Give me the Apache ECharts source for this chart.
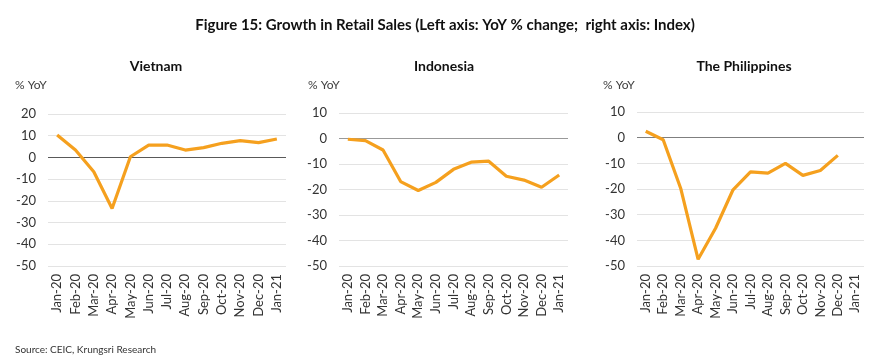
<!DOCTYPE html>
<html>
<head>
<meta charset="utf-8">
<script src="https://cdn.jsdelivr.net/npm/echarts@6/dist/echarts.min.js"></script>
<style>
html,body{margin:0;padding:0;background:#fff;}
#chart{width:870px;height:363px;}
</style>
</head>
<body>
<div id="chart"></div>
<script>
const months = ['Jan-20','Feb-20','Mar-20','Apr-20','May-20','Jun-20','Jul-20','Aug-20','Sep-20','Oct-20','Nov-20','Dec-20','Jan-21'];
const vietnam = [10.3, 3.4, -6.6, -23.5, 0.3, 5.7, 5.7, 3.4, 4.5, 6.5, 7.7, 6.8, 8.5];
const indonesia = [-0.3, -0.8, -4.5, -16.9, -20.4, -17.2, -12.1, -9.3, -8.9, -14.8, -16.3, -19.1, -14.3];
const philippines = [2.5, -0.8, -19.7, -47.4, -35.3, -20.3, -13.3, -13.8, -10.0, -14.7, -12.8, -6.9, null];
const panelTitles = ['Vietnam', 'Indonesia', 'The Philippines'];
const yMax = [20, 10, 10];
const yMin = -50;
const mainTitle = 'Figure 15: Growth in Retail Sales (Left axis: YoY % change;  right axis: Index)';
const sourceText = 'Source: CEIC, Krungsri Research';
const unitLabel = '% YoY';

const FONT = 'Lato';
const lineColor = '#F5A01E';
const grids = [
  {left: 48, width: 238, top: 114, bottom: 97},
  {left: 339, width: 229, top: 113, bottom: 97},
  {left: 637, width: 227, top: 112, bottom: 97}
];
const titlePos = [151, 439, 739];
const unitPos = [10, 303, 598];
const seriesData = [vietnam, indonesia, philippines];
const zeroColors = ['#595959', '#999999', '#7f7f7f'];

const chart = echarts.init(document.getElementById('chart'), null, {renderer: 'canvas'});
const titles = [
  {text: mainTitle, left: 440, top: 13, textAlign: 'center',
   textStyle: {fontFamily: FONT, fontSize: 15, fontWeight: 'bold', color: '#111'}},
  {text: sourceText, left: 10, top: 340,
   textStyle: {fontFamily: FONT, fontSize: 10, fontWeight: 'normal', color: '#333'}}
];
panelTitles.forEach((t, i) => {
  titles.push({text: t, left: titlePos[i], top: 54, textAlign: 'center',
    textStyle: {fontFamily: FONT, fontSize: 14, fontWeight: 'bold', color: '#111'}});
  titles.push({text: unitLabel, left: unitPos[i], top: 74,
    textStyle: {fontFamily: FONT, fontSize: 12, fontWeight: 'normal', color: '#404040'}});
});

const option = {
  backgroundColor: '#fff',
  animation: false,
  title: titles,
  grid: grids,
  xAxis: grids.map((g, i) => ({
    type: 'category', gridIndex: i, data: months, boundaryGap: true,
    axisLine: {show: false, onZero: false}, axisTick: {show: false},
    axisLabel: {rotate: 90, interval: 0, margin: 8, fontFamily: FONT, fontSize: 13, color: '#333'}
  })),
  yAxis: grids.map((g, i) => ({
    type: 'value', gridIndex: i, min: yMin, max: yMax[i], interval: 10,
    axisLine: {show: false}, axisTick: {show: false},
    axisLabel: {margin: 12, fontFamily: FONT, fontSize: 13, color: '#333'},
    splitLine: {lineStyle: {color: '#e3e3e3', width: 1}}
  })),
  series: seriesData.map((d, i) => ({
    type: 'line', xAxisIndex: i, yAxisIndex: i, data: d,
    showSymbol: false, symbol: 'none', connectNulls: false,
    lineStyle: {color: lineColor, width: 3.2}, z: 3,
    markLine: {silent: true, symbol: 'none', label: {show: false},
      lineStyle: {color: zeroColors[i], width: 1, type: 'solid'},
      data: [{yAxis: 0}], z: 2}
  }))
};
chart.setOption(option);
</script>
</body>
</html>
